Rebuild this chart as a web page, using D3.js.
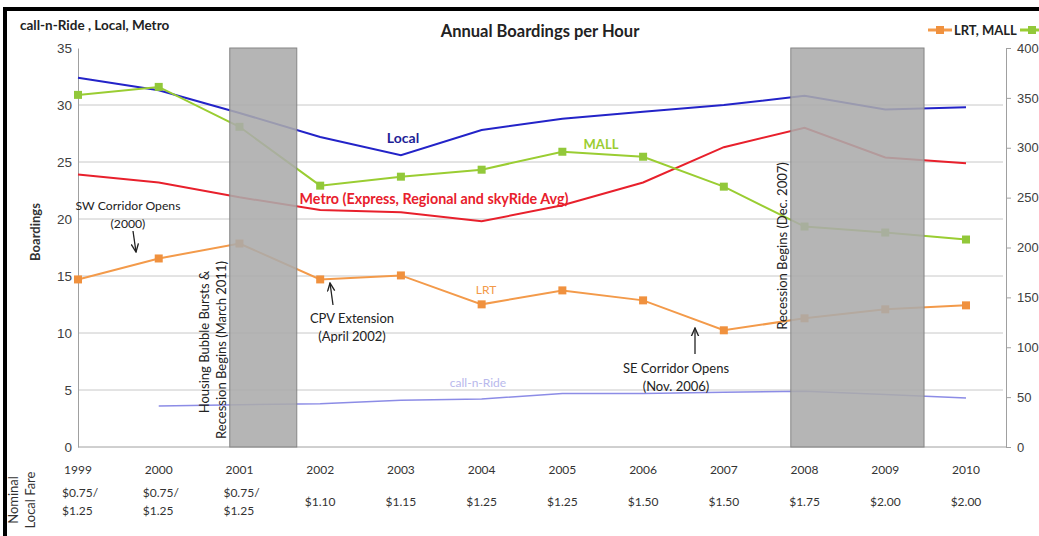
<!DOCTYPE html>
<html>
<head>
<meta charset="utf-8">
<script src="https://cdn.jsdelivr.net/npm/d3@7"></script>
<style>
  html, body { margin: 0; padding: 0; background: #fff; }
  svg { display: block; font-family: "Lato", "Open Sans", sans-serif; }
</style>
</head>
<body>
<svg id="chart" width="1039" height="536"></svg>
<script>
// Years on the category axis
const years = [1999, 2000, 2001, 2002, 2003, 2004, 2005, 2006, 2007, 2008, 2009, 2010];
// Nominal local fare per year (one or two lines)
const fares = [["$0.75/", "$1.25"], ["$0.75/", "$1.25"], ["$0.75/", "$1.25"], ["$1.10"], ["$1.15"], ["$1.25"],
               ["$1.25"], ["$1.50"], ["$1.50"], ["$1.75"], ["$2.00"], ["$2.00"]];

// Left axis series (boardings per hour)
const local = [32.4, 31.3, 29.3, 27.2, 25.6, 27.8, 28.8, 29.4, 30.0, 30.8, 29.6, 29.8];
const metro = [23.9, 23.2, 21.9, 20.8, 20.6, 19.8, 21.2, 23.2, 26.3, 28.0, 25.4, 24.9];
const callNRide = [null, 3.6, 3.7, 3.8, 4.1, 4.2, 4.7, 4.7, 4.8, 4.9, 4.6, 4.3];

// Right axis series (boardings per hour)
const mall = [353, 361, 321, 262, 271, 278, 296, 291, 261, 221, 215, 208];
const lrt = [168, 189, 204, 168, 172, 143, 157, 147, 117, 129, 138, 142];

// Axis ticks
const leftTicks = [0, 5, 10, 15, 20, 25, 30, 35];
const rightTicks = [0, 50, 100, 150, 200, 250, 300, 350, 400];

// Recession periods (fractional years)
const recessions = [[2000.88, 2001.71], [2007.83, 2009.48]];

const svg = d3.select("#chart");
const plot = { left: 78, right: 1006, top: 48, bottom: 447 };

const x = d3.scaleLinear().domain([1999, 2010]).range([78, 966]);
const yL = d3.scaleLinear().domain([0, 35]).range([plot.bottom, plot.top]);
const yR = d3.scaleLinear().domain([0, 400]).range([plot.bottom, plot.top]);

// Frame edges
svg.append("rect").attr("x", 5).attr("y", 9).attr("width", 1040).attr("height", 540)
  .attr("fill", "none").attr("stroke", "#000").attr("stroke-width", 4);

// Gridlines
svg.append("g").selectAll("line").data(leftTicks.slice(1, -1)).join("line")
  .attr("x1", plot.left).attr("x2", plot.right - 3)
  .attr("y1", d => yL(d)).attr("y2", d => yL(d))
  .attr("stroke", "#c8c8c8").attr("stroke-width", 1);

// Left axis
const gL = svg.append("g").attr("transform", `translate(${plot.left},0)`)
  .call(d3.axisLeft(yL).tickValues(leftTicks).tickSize(0).tickPadding(6));
gL.select(".domain").attr("stroke", "#a0a0a0");
gL.selectAll("text").attr("font-size", 13.5).attr("fill", "#404040");

// Right axis
const gR = svg.append("g").attr("transform", `translate(${plot.right},0)`)
  .call(d3.axisRight(yR).tickValues(rightTicks).tickSize(5).tickPadding(6));
gR.selectAll(".domain, line").attr("stroke", "#a0a0a0");
gR.selectAll("text").attr("font-size", 13).attr("fill", "#404040");

// Bottom axis line
svg.append("line").attr("x1", plot.left).attr("x2", plot.right)
  .attr("y1", plot.bottom).attr("y2", plot.bottom).attr("stroke", "#a0a0a0");

// Series lines
const lineL = d3.line().defined(d => d[1] != null).x(d => x(d[0])).y(d => yL(d[1]));
const lineR = d3.line().x(d => x(d[0])).y(d => yR(d[1]));
const zip = arr => years.map((yr, i) => [yr, arr[i]]);

svg.append("path").datum(zip(callNRide)).attr("d", lineL)
  .attr("fill", "none").attr("stroke", "#8c8ce6").attr("stroke-width", 1.5);
svg.append("path").datum(zip(local)).attr("d", lineL)
  .attr("fill", "none").attr("stroke", "#2323c8").attr("stroke-width", 2);
svg.append("path").datum(zip(metro)).attr("d", lineL)
  .attr("fill", "none").attr("stroke", "#e8202c").attr("stroke-width", 2);
svg.append("path").datum(zip(mall)).attr("d", lineR)
  .attr("fill", "none").attr("stroke", "#9acd32").attr("stroke-width", 2);
svg.append("path").datum(zip(lrt)).attr("d", lineR)
  .attr("fill", "none").attr("stroke", "#f39a4a").attr("stroke-width", 2);

svg.append("g").selectAll("rect").data(zip(mall)).join("rect")
  .attr("x", d => x(d[0]) - 4).attr("y", d => yR(d[1]) - 4).attr("width", 8).attr("height", 8)
  .attr("fill", "#92c83a");
svg.append("g").selectAll("rect").data(zip(lrt)).join("rect")
  .attr("x", d => x(d[0]) - 4).attr("y", d => yR(d[1]) - 4).attr("width", 8).attr("height", 8)
  .attr("fill", "#f0913e");

// Recession shading
svg.append("g").selectAll("rect").data(recessions).join("rect")
  .attr("x", d => x(d[0])).attr("y", plot.top)
  .attr("width", d => x(d[1]) - x(d[0])).attr("height", plot.bottom - plot.top)
  .attr("fill", "#ababab").attr("fill-opacity", 0.88)
  .attr("stroke", "#858585").attr("stroke-width", 1);

// Series labels
const label = (tx, ty, t, color, size, weight) => svg.append("text")
  .attr("x", tx).attr("y", ty).attr("text-anchor", "middle")
  .attr("font-size", size).attr("font-weight", weight).attr("fill", color).text(t);
label(403, 143, "Local", "#1e1e96", 14, "bold");
label(601, 149, "MALL", "#9acd32", 13, "bold");
label(434, 204, "Metro (Express, Regional and skyRide Avg)", "#e8202c", 14.3, "bold");
label(486, 294, "LRT", "#f39a4a", 12, "normal");
label(478, 387, "call-n-Ride", "#b8b8ec", 12, "normal");

// Event annotations
const note = (tx, ty, lines, size) => lines.forEach((t, i) => label(tx, ty + i * 18, t, "#222", size, "normal"));
note(128, 210, ["SW Corridor Opens", "(2000)"], 12.2);
note(352, 323, ["CPV Extension", "(April 2002)"], 13);
note(676, 373, ["SE Corridor Opens", "(Nov. 2006)"], 13);

svg.append("defs").append("marker").attr("id", "arrow")
  .attr("viewBox", "0 0 10 10").attr("refX", 9).attr("refY", 5)
  .attr("markerWidth", 7).attr("markerHeight", 7).attr("orient", "auto")
  .append("path").attr("d", "M0,1 L9,5 L0,9").attr("fill", "none").attr("stroke", "#222").attr("stroke-width", 1.5);
const arrow = (x1, y1, x2, y2) => svg.append("line")
  .attr("x1", x1).attr("y1", y1).attr("x2", x2).attr("y2", y2)
  .attr("stroke", "#222").attr("stroke-width", 1.3).attr("marker-end", "url(#arrow)");
arrow(133, 231, 136, 252);
arrow(333, 305, 330, 283);
arrow(695, 354, 695, 328);

// Rotated event labels
const vlabel = (tx, ty, t) => svg.append("text")
  .attr("transform", `translate(${tx},${ty}) rotate(-90)`).attr("text-anchor", "middle")
  .attr("font-size", 13).attr("fill", "#222").text(t);
vlabel(209, 342, "Housing Bubble Bursts  &");
vlabel(226, 350, "Recession Begins (March 2011)");
vlabel(787, 246, "Recession Begins (Dec. 2007)");

// Titles
svg.append("text").attr("x", 540).attr("y", 37).attr("text-anchor", "middle")
  .attr("font-size", 16.5).attr("font-weight", "bold").attr("fill", "#222").text("Annual Boardings per Hour");
svg.append("text").attr("x", 20).attr("y", 30)
  .attr("font-size", 13.5).attr("font-weight", "bold").attr("fill", "#222").text("call-n-Ride , Local, Metro");
svg.append("text").attr("transform", "translate(40,232) rotate(-90)").attr("text-anchor", "middle")
  .attr("font-size", 13).attr("font-weight", "bold").attr("fill", "#333").text("Boardings");

// Legend (right axis series)
const lg = svg.append("g");
lg.append("line").attr("x1", 928).attr("x2", 952).attr("y1", 30).attr("y2", 30).attr("stroke", "#f39a4a").attr("stroke-width", 3);
lg.append("rect").attr("x", 936).attr("y", 26).attr("width", 8).attr("height", 8).attr("fill", "#f0913e");
lg.append("text").attr("x", 954).attr("y", 35).attr("font-size", 13).attr("font-weight", "bold").attr("fill", "#222").text("LRT, MALL");
lg.append("line").attr("x1", 1020).attr("x2", 1044).attr("y1", 30).attr("y2", 30).attr("stroke", "#9acd32").attr("stroke-width", 3);
lg.append("rect").attr("x", 1028).attr("y", 26).attr("width", 8).attr("height", 8).attr("fill", "#92c83a");

// Year labels and fare rows
const gx = svg.append("g");
gx.selectAll("text.year").data(years).join("text").attr("class", "year")
  .attr("x", d => x(d)).attr("y", 474).attr("text-anchor", "middle")
  .attr("font-size", 12).attr("fill", "#333").text(d => d);
years.forEach((yr, i) => {
  const f = fares[i];
  const ys = f.length === 2 ? [497, 515] : [506];
  f.forEach((t, j) => gx.append("text").attr("x", x(yr) + (f.length === 2 ? -16 : 0)).attr("y", ys[j])
    .attr("text-anchor", f.length === 2 ? "start" : "middle")
    .attr("font-size", 12).attr("fill", "#333").text(t));
});
svg.append("text").attr("transform", "translate(18,500) rotate(-90)").attr("text-anchor", "middle")
  .attr("font-size", 13).attr("fill", "#333").text("Nominal");
svg.append("text").attr("transform", "translate(35,500) rotate(-90)").attr("text-anchor", "middle")
  .attr("font-size", 13).attr("fill", "#333").text("Local Fare");
</script>
</body>
</html>
